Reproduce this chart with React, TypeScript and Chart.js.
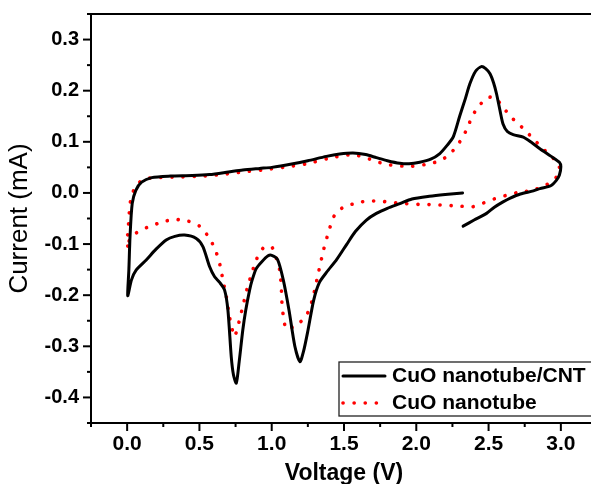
import React, { useEffect, useRef } from "react";
import { Chart, registerables } from "chart.js";
Chart.register(...registerables);

// CuO nanotube/CNT (black solid), path order
const cntV = [2.32, 2.2, 2.09, 1.97, 1.886, 1.8, 1.724, 1.655, 1.58, 1.52, 1.45, 1.38, 1.33, 1.29, 1.25, 1.22, 1.195, 1.16, 1.12, 1.08, 1.04, 1.0, 0.975, 0.93, 0.893, 0.865, 0.847, 0.82, 0.8, 0.775, 0.755, 0.735, 0.72, 0.697, 0.674, 0.64, 0.605, 0.57, 0.524, 0.478, 0.397, 0.33, 0.27, 0.2, 0.132, 0.062, 0.03, 0.004,
  0.012, 0.02, 0.035, 0.06, 0.1, 0.17, 0.3, 0.45, 0.57, 0.7, 0.8, 0.917, 1.0, 1.147, 1.25, 1.378, 1.47, 1.562, 1.65, 1.724, 1.8, 1.886, 1.95, 2.024, 2.1, 2.163, 2.21, 2.255, 2.3, 2.34, 2.37, 2.41, 2.45, 2.48, 2.51, 2.535, 2.555, 2.58, 2.6, 2.63, 2.67, 2.74, 2.8, 2.855, 2.93, 2.99, 3.0,
  2.99, 2.97, 2.93, 2.855, 2.81, 2.72, 2.65, 2.6, 2.54, 2.486, 2.4, 2.324];
const cntI = [0.0, -0.003, -0.0065, -0.012, -0.021, -0.03, -0.04, -0.053, -0.075, -0.1, -0.13, -0.155, -0.175, -0.21, -0.27, -0.31, -0.33, -0.3, -0.23, -0.17, -0.13, -0.122, -0.123, -0.135, -0.148, -0.17, -0.19, -0.23, -0.268, -0.33, -0.372, -0.355, -0.32, -0.229, -0.19, -0.175, -0.164, -0.144, -0.105, -0.089, -0.0825, -0.085, -0.092, -0.11, -0.131, -0.151, -0.17, -0.201,
  -0.15, -0.085, -0.021, 0.005, 0.021, 0.03, 0.033, 0.034, 0.036, 0.041, 0.045, 0.048, 0.05, 0.057, 0.063, 0.0715, 0.076, 0.078, 0.075, 0.069, 0.063, 0.058, 0.057, 0.06, 0.066, 0.077, 0.092, 0.109, 0.15, 0.185, 0.213, 0.238, 0.247, 0.243, 0.233, 0.215, 0.194, 0.16, 0.135, 0.12, 0.114, 0.109, 0.098, 0.0865, 0.072, 0.06, 0.051,
  0.035, 0.025, 0.014, 0.0085, 0.004, -0.002, -0.01, -0.0175, -0.028, -0.04, -0.053, -0.065];

// CuO nanotube (red dotted), path order
const ntV = [0.004, 0.004, 0.012, 0.02, 0.05, 0.09, 0.13, 0.22, 0.316, 0.5, 0.65, 0.8, 0.95, 1.1, 1.24, 1.4, 1.562, 1.68, 1.79, 1.955, 2.09, 2.17, 2.232, 2.28, 2.324, 2.36, 2.393, 2.44, 2.49, 2.52, 2.555, 2.6, 2.647, 2.705, 2.76, 2.81, 2.867, 2.917, 2.97, 2.99,
  2.98, 2.95, 2.88, 2.8, 2.705, 2.625, 2.545, 2.467, 2.39, 2.313, 2.22, 2.123, 2.024, 1.932, 1.84, 1.747, 1.655, 1.57, 1.493, 1.436, 1.4, 1.36, 1.32, 1.28, 1.24, 1.2, 1.15, 1.11, 1.097, 1.08, 1.07, 1.066, 1.055, 1.032, 1.004, 0.97, 0.94, 0.893, 0.859, 0.831, 0.805, 0.773, 0.743, 0.725, 0.708, 0.685, 0.662, 0.644, 0.612, 0.566, 0.496, 0.42, 0.32, 0.231, 0.15, 0.07, 0.02, 0.004];
const ntI = [-0.104, -0.079, -0.053, -0.021, 0.0085, 0.022, 0.028, 0.03, 0.031, 0.0325, 0.036, 0.041, 0.0455, 0.051, 0.057, 0.068, 0.075, 0.066, 0.056, 0.052, 0.057, 0.064, 0.076, 0.092, 0.11, 0.132, 0.153, 0.172, 0.187, 0.187, 0.183, 0.168, 0.151, 0.135, 0.121, 0.105, 0.09, 0.075, 0.062, 0.05,
  0.036, 0.025, 0.013, 0.005, 0.001, -0.0045, -0.011, -0.0195, -0.027, -0.026, -0.0245, -0.023, -0.0225, -0.021, -0.019, -0.016, -0.016, -0.021, -0.0285, -0.043, -0.07, -0.11, -0.16, -0.21, -0.24, -0.252, -0.262, -0.265, -0.266, -0.24, -0.212, -0.183, -0.151, -0.128, -0.107, -0.104, -0.108, -0.131, -0.16, -0.186, -0.216, -0.253, -0.281, -0.265, -0.242, -0.201, -0.17, -0.143, -0.113, -0.087, -0.064, -0.055, -0.052, -0.058, -0.066, -0.077, -0.09, -0.104];

const seriesLabels = ["CuO nanotube/CNT", "CuO nanotube"];
const xTitle = "Voltage (V)";
const yTitle = "Current (mA)";
const xTickVals = [0.0, 0.5, 1.0, 1.5, 2.0, 2.5, 3.0];
const yTickVals = [-0.4, -0.3, -0.2, -0.1, 0.0, 0.1, 0.2, 0.3];
const xMin = -0.25, xMax = 3.25;
const yMin = -0.45, yMax = 0.35;

const FONT = "'Liberation Sans', Arial, sans-serif";

const fmt = (v: number) => (Math.abs(v) < 1e-9 ? "0.0" : Number(v).toFixed(1));

const decor = {
  id: "decor",
  afterDraw(chart: any) {
    const { ctx, chartArea: a, scales } = chart;
    const x = scales.x, y = scales.y;
    ctx.save();
    ctx.strokeStyle = "#000";
    ctx.lineWidth = 2;
    ctx.strokeRect(a.left, a.top, a.right - a.left, a.bottom - a.top);
    // x ticks (major + minor at half-steps)
    const xs = x.ticks.map((t: any) => t.value);
    const xh = (xs[1] - xs[0]) / 2;
    for (let v = xs[0] - Math.floor((xs[0] - x.min) / xh + 1e-6) * xh; v <= x.max + 1e-6; v += xh) {
      const px = x.getPixelForValue(v);
      const major = xs.some((t: number) => Math.abs(t - v) < 1e-6);
      ctx.beginPath();
      ctx.moveTo(px, a.bottom);
      ctx.lineTo(px, a.bottom + (major ? 8 : 4));
      ctx.stroke();
    }
    const ys = y.ticks.map((t: any) => t.value);
    const yh = (ys[1] - ys[0]) / 2;
    for (let v = ys[0] - Math.floor((ys[0] - y.min) / yh + 1e-6) * yh; v <= y.max + 1e-6; v += yh) {
      const py = y.getPixelForValue(v);
      const major = ys.some((t: number) => Math.abs(t - v) < 1e-6);
      ctx.beginPath();
      ctx.moveTo(a.left, py);
      ctx.lineTo(a.left - (major ? 8 : 4), py);
      ctx.stroke();
    }
    // legend
    const lx = 339, ly = 362, lh = 54;
    ctx.lineWidth = 1.3;
    ctx.strokeStyle = "#222";
    ctx.strokeRect(lx, ly, chart.width - lx + 10, lh);
    ctx.font = `bold 21px ${FONT}`;
    ctx.textBaseline = "middle";
    ctx.fillStyle = "#000";
    chart.data.datasets.forEach((ds: any, i: number) => {
      const ry = ly + 14 + i * 27;
      ctx.save();
      ctx.strokeStyle = ds.borderColor;
      ctx.lineWidth = ds.borderWidth;
      ctx.lineCap = ds.borderCapStyle || "butt";
      ctx.setLineDash(ds.borderDash || []);
      ctx.beginPath();
      ctx.moveTo(lx + 4, ry);
      ctx.lineTo(lx + 46, ry);
      ctx.stroke();
      ctx.restore();
      ctx.fillText(ds.label, lx + 53, ry);
    });
    ctx.restore();
  },
};

export default function App() {
  const ref = useRef<HTMLCanvasElement>(null);
  useEffect(() => {
    const canvas = ref.current!;
    const chart = new Chart(canvas, {
      type: "line",
      data: {
        datasets: [
          {
            label: seriesLabels[0],
            data: cntV.map((v, i) => ({ x: v, y: cntI[i] })),
            borderColor: "#000000",
            borderWidth: 3,
            pointRadius: 0,
            tension: 0.25,
            fill: false,
            borderCapStyle: "round",
            borderJoinStyle: "round",
          },
          {
            label: seriesLabels[1],
            data: ntV.map((v, i) => ({ x: v, y: ntI[i] })),
            borderColor: "#ff0000",
            borderWidth: 3.6,
            borderDash: [0.1, 11],
            borderCapStyle: "round",
            pointRadius: 0,
            tension: 0.25,
            fill: false,
          },
        ],
      },
      options: {
        animation: false,
        responsive: false,
        devicePixelRatio: 1,
        layout: { padding: { top: 14, right: 23, left: 0, bottom: 0 } },
        plugins: { legend: { display: false }, tooltip: { enabled: false } },
        scales: {
          x: {
            type: "linear",
            min: xMin,
            max: xMax,
            grid: { display: false },
            border: { display: false },
            ticks: {
              padding: 1,
              color: "#000",
              font: { family: FONT, size: 21, weight: "bold" },
              callback: (v: any) => fmt(v),
              maxRotation: 0,
              autoSkip: false,
            },
            afterBuildTicks: (s: any) => {
              s.ticks = xTickVals.map((v) => ({ value: v }));
            },
            afterFit: (s: any) => {
              s.height = 61;
              s.paddingLeft = 0;
              s.paddingRight = 0;
            },
            title: {
              display: true,
              text: xTitle,
              color: "#000",
              font: { family: FONT, size: 23, weight: "bold", lineHeight: 0.9 },
              padding: { top: 0, bottom: 0 },
            },
          },
          y: {
            type: "linear",
            min: yMin,
            max: yMax,
            grid: { display: false },
            border: { display: false },
            ticks: {
              padding: 4,
              color: "#000",
              font: { family: FONT, size: 20, weight: "bold" },
              callback: (v: any) => fmt(v),
              autoSkip: false,
            },
            afterBuildTicks: (s: any) => {
              s.ticks = yTickVals.map((v) => ({ value: v }));
            },
            afterFit: (s: any) => {
              s.width = 91;
              s.paddingTop = 0;
              s.paddingBottom = 0;
            },
            title: {
              display: true,
              text: yTitle,
              color: "#000",
              font: { family: FONT, size: 26, weight: "normal" },
              padding: { top: 4, bottom: 0 },
            },
          },
        },
      },
      plugins: [decor],
    });
    return () => chart.destroy();
  }, []);
  return (
    <div style={{ position: "fixed", left: 0, top: 0, width: 591, height: 484, overflow: "hidden", background: "#fff" }}>
      <canvas ref={ref} width={620} height={484} style={{ width: 620, height: 484, display: "block" }} />
    </div>
  );
}
